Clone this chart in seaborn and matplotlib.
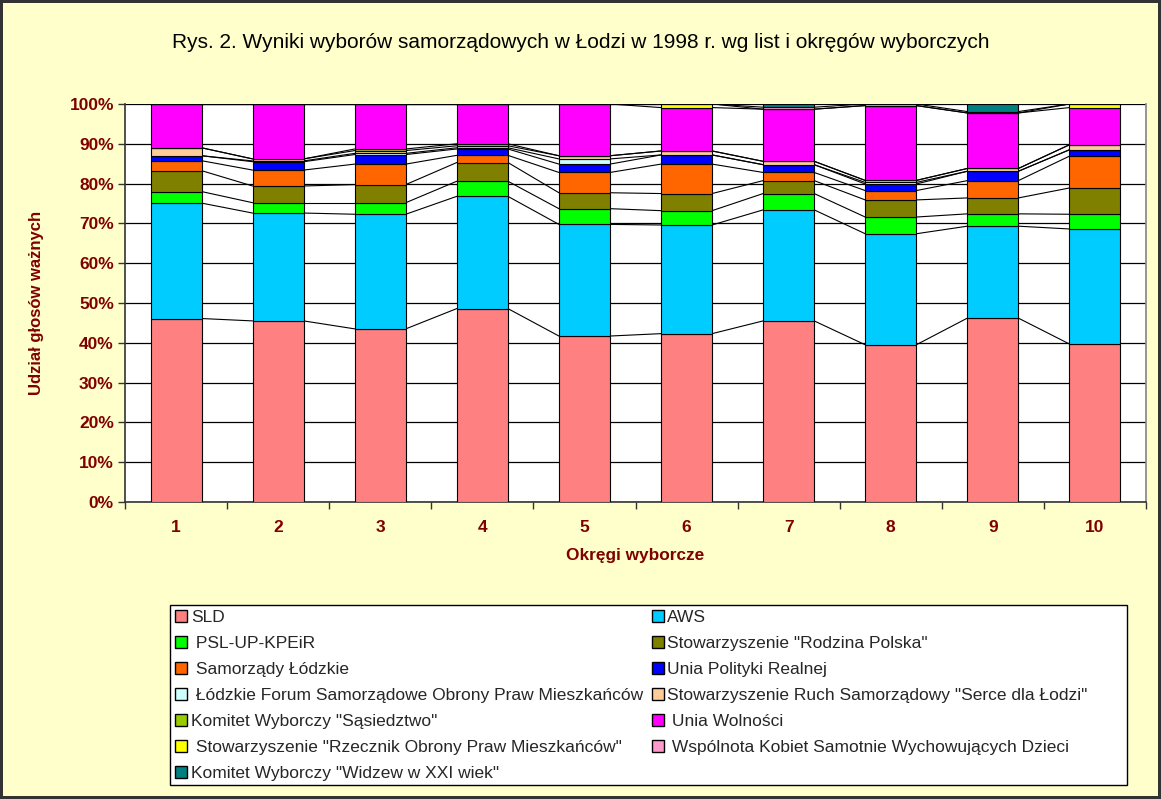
import matplotlib
matplotlib.use("Agg")
import matplotlib.pyplot as plt
import matplotlib.patches as mpatches
import numpy as np
import seaborn as sns

# districts 1..10
districts = ["1", "2", "3", "4", "5", "6", "7", "8", "9", "10"]

# shares of valid votes per list (%), bottom to top
sld = [46.1, 45.5, 43.5, 48.6, 41.7, 42.3, 45.5, 39.5, 46.2, 39.7]
aws = [29.0, 27.1, 28.8, 28.2, 28.05, 27.3, 27.9, 27.9, 23.1, 28.9]
psl = [2.9, 2.6, 2.9, 3.8, 3.95, 3.6, 4.1, 4.2, 3.1, 3.7]
rodzina = [5.25, 4.2, 4.55, 4.7, 4.0, 4.3, 3.25, 4.3, 4.0, 6.6]
samorzady = [2.5, 4.0, 5.15, 1.8, 5.1, 7.4, 2.05, 2.35, 4.35, 8.0]
upr = [1.25, 2.1, 2.4, 1.6, 2.1, 2.3, 1.95, 1.65, 2.35, 1.6]
forum = [0.0, 0.2, 0.3, 0.3, 1.3, 0.0, 0.0, 0.4, 0.0, 0.0]
serce = [2.0, 0.5, 0.7, 0.5, 0.8, 1.0, 0.85, 0.5, 0.7, 1.25]
sasiedztwo = [0.0, 0.0, 0.4, 0.5, 0.0, 0.0, 0.0, 0.0, 0.0, 0.0]
uw = [11.0, 13.8, 11.3, 10.0, 13.0, 10.9, 13.1, 18.8, 13.95, 9.35]
rzecznik = [0.0, 0.0, 0.0, 0.0, 0.0, 0.9, 0.0, 0.0, 0.0, 0.9]
wspolnota = [0.0, 0.0, 0.0, 0.0, 0.0, 0.0, 0.5, 0.4, 0.35, 0.0]
widzew = [0.0, 0.0, 0.0, 0.0, 0.0, 0.0, 0.8, 0.0, 1.9, 0.0]

labels = [
    "SLD",
    "AWS",
    " PSL-UP-KPEiR",
    "Stowarzyszenie \"Rodzina Polska\"",
    " Samorządy Łódzkie",
    "Unia Polityki Realnej",
    " Łódzkie Forum Samorządowe Obrony Praw Mieszkańców",
    "Stowarzyszenie Ruch Samorządowy \"Serce dla Łodzi\"",
    "Komitet Wyborczy \"Sąsiedztwo\"",
    " Unia Wolności",
    " Stowarzyszenie \"Rzecznik Obrony Praw Mieszkańców\"",
    " Wspólnota Kobiet Samotnie Wychowujących Dzieci",
    "Komitet Wyborczy \"Widzew w XXI wiek\"",
]
series = [sld, aws, psl, rodzina, samorzady, upr, forum, serce,
          sasiedztwo, uw, rzecznik, wspolnota, widzew]
colors = ["#FF8080", "#00CCFF", "#00FF00", "#808000", "#FF6600", "#0000FF",
          "#CCFFFF", "#FFCC99", "#99CC00", "#FF00FF", "#FFFF00", "#FF99CC",
          "#008080"]

sns.set_theme(style="white")
plt.rcParams["font.family"] = ["Liberation Sans", "DejaVu Sans"]

dark_red = "#800000"
bw = 0.5

fig = plt.figure(figsize=(11.61, 7.99), dpi=100, facecolor="#FFFFCC")
fig.patch.set_edgecolor("#333333")
fig.patch.set_linewidth(3)
ax = fig.add_axes([125 / 1161, 1 - 502 / 799, 1021 / 1161, 398 / 799])
ax.set_facecolor("white")

bottom = np.zeros(len(districts))
tops = []
for vals, col in zip(series, colors):
    vals = np.array(vals)
    sns.barplot(x=districts, y=vals, bottom=bottom, color=col, width=bw,
                edgecolor="black", linewidth=0.8, saturation=1, ax=ax, zorder=3)
    bottom = bottom + vals
    tops.append(bottom.copy())

# series lines between bars
for t in tops[:-1]:
    for i in range(len(districts) - 1):
        ax.plot([i + bw / 2, i + 1 - bw / 2], [t[i], t[i + 1]],
                color="black", lw=0.8, zorder=2)

ax.set_xlim(-0.5, len(districts) - 0.5)
ax.set_ylim(0, 100)
ax.set_yticks(np.arange(0, 101, 10))
ax.set_yticklabels([f"{v}%" for v in range(0, 101, 10)])
ax.yaxis.grid(True, color="black", lw=0.9)
ax.set_axisbelow(True)

ax.set_xticks(np.arange(len(districts)))
ax.set_xticklabels(districts)
ax.set_xticks(np.arange(-0.5, len(districts)), minor=True)
ax.tick_params(axis="x", which="major", length=0, pad=13)
ax.tick_params(axis="x", which="minor", length=5, width=1, color="#333333",
               direction="out", bottom=True)
ax.tick_params(axis="y", length=5, width=1, color="#333333", direction="out",
               left=True, pad=3)
for lab in ax.get_xticklabels() + ax.get_yticklabels():
    lab.set_fontweight("bold")
    lab.set_color(dark_red)
    lab.set_fontsize(12.5)

for side in ["left", "bottom"]:
    ax.spines[side].set_color("#333333")
    ax.spines[side].set_linewidth(1.2)
ax.spines["right"].set_color("#888888")
ax.spines["top"].set_visible(False)

ax.set_xlabel("Okręgi wyborcze", fontsize=12.4, fontweight="bold", color=dark_red)
ax.set_ylabel("Udział głosów ważnych", fontsize=12, fontweight="bold",
              color=dark_red)
ax.xaxis.set_label_coords(0.5, -0.115)
ax.yaxis.set_label_coords(-0.079, 0.5)

fig.text(0.5, 1 - 42 / 799, "Rys. 2. Wyniki wyborów samorządowych w Łodzi w 1998 r. wg list i okręgów wyborczych",
         ha="center", va="center", fontsize=15, color="black")

# legend frame
fig.add_artist(mpatches.Rectangle((170 / 1161, 1 - 785 / 799), 957 / 1161, 180 / 799,
                                  transform=fig.transFigure, facecolor="white",
                                  edgecolor="black", linewidth=1, zorder=1))

# legend in row-major order, two columns
handles = [mpatches.Patch(facecolor=c, edgecolor="black", linewidth=1) for c in colors]
order = list(range(0, len(labels), 2)) + list(range(1, len(labels), 2))
leg = fig.legend([handles[i] for i in order], [labels[i] for i in order],
                 ncol=2, loc="upper left", bbox_to_anchor=(170 / 1161, 1 - 605 / 799),
                 fontsize=12.5, frameon=False, handlelength=0.7,
                 handleheight=0.7, handletextpad=0.2, labelspacing=0.62,
                 columnspacing=0.5, borderpad=0.3, borderaxespad=0)

fig.savefig("out.png", dpi=100, facecolor=fig.get_facecolor(),
            edgecolor=fig.get_edgecolor())
